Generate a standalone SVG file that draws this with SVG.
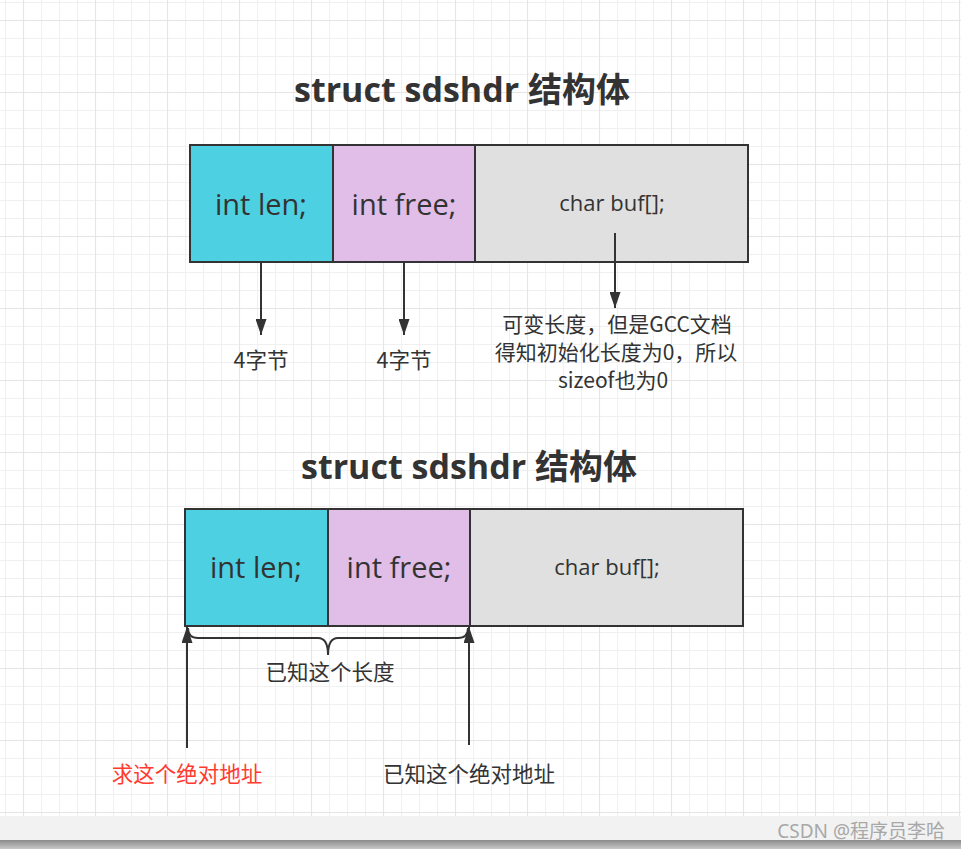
<svg xmlns="http://www.w3.org/2000/svg" width="961" height="849" viewBox="0 0 961 849">
<defs>
<pattern id="grid" patternUnits="userSpaceOnUse" x="23" y="20" width="72" height="72">
<path d="M18.5 0V72M36.5 0V72M54.5 0V72M0 18.5H72M0 36.5H72M0 54.5H72" stroke="#f0f0f0" stroke-width="1" fill="none"/>
<path d="M0.5 0V72M0 0.5H72" stroke="#e5e5e5" stroke-width="1.2" fill="none"/>
</pattern>
<linearGradient id="shade" x1="0" y1="0" x2="0" y2="1">
<stop offset="0" stop-color="#8a8a8a"/>
<stop offset="1" stop-color="#c8c8c8"/>
</linearGradient>
<marker id="ah" viewBox="0 0 16 11" refX="16" refY="5.5" markerWidth="16" markerHeight="11" markerUnits="userSpaceOnUse" orient="auto">
<path d="M0 0L16 5.5L0 11Z" fill="#333"/>
</marker>
<style>
.box{stroke:#333;stroke-width:2}
.len{fill:#4dd0e1}
.free{fill:#e1bee7}
.buf{fill:#e0e0e0}
.big{font-family:"Open Sans","Noto Sans","Noto Sans CJK SC",sans-serif;font-size:29px;fill:#333;text-anchor:middle}
.small{font-family:"Open Sans","Noto Sans","Noto Sans CJK SC",sans-serif;font-size:22px;fill:#333;text-anchor:middle}
.title{font-family:"Open Sans","Noto Sans","Noto Sans CJK SC",sans-serif;font-size:34px;font-weight:bold;fill:#333;text-anchor:middle}
.lbl{font-family:"Noto Sans CJK SC","Noto Sans",sans-serif;font-size:21.5px;fill:#333;text-anchor:middle}
.multi{font-size:21px}
.conn{stroke:#333;stroke-width:2;fill:none}
</style>
</defs>
<rect x="0" y="0" width="961" height="816" fill="#ffffff"/>
<rect x="0" y="0" width="961" height="816" fill="url(#grid)"/>
<rect x="0" y="816" width="961" height="24" fill="#f2f2f2"/>
<rect x="0" y="840" width="961" height="9" fill="url(#shade)"/>

<g id="title1"><text class="title" x="462" y="102">struct sdshdr 结构体</text></g>
<g id="top-len"><rect class="box len" x="190" y="145" width="143" height="117"/><text class="big" x="261" y="215">int len;</text></g>
<g id="top-free"><rect class="box free" x="333" y="145" width="142" height="117"/><text class="big" x="404" y="215">int free;</text></g>
<g id="top-buf"><rect class="box buf" x="475" y="145" width="273" height="117"/><text class="small" x="612" y="211">char buf[];</text></g>
<g id="lbl-len"><text class="lbl" x="261" y="368">4字节</text></g>
<g id="lbl-free"><text class="lbl" x="404" y="368">4字节</text></g>
<g id="lbl-buf"><text class="lbl multi" x="617" y="332">可变长度，但是GCC文档</text><text class="lbl multi" x="616" y="360">得知初始化长度为0，所以</text><text class="lbl multi" x="613" y="388">sizeof也为0</text></g>

<g id="title2"><text class="title" x="469" y="479">struct sdshdr 结构体</text></g>
<g id="bot-len"><rect class="box len" x="185" y="509" width="143" height="117"/><text class="big" x="256" y="578">int len;</text></g>
<g id="bot-free"><rect class="box free" x="328" y="509" width="142" height="117"/><text class="big" x="399" y="578">int free;</text></g>
<g id="bot-buf"><rect class="box buf" x="470" y="509" width="273" height="117"/><text class="small" x="607" y="575">char buf[];</text></g>
<g id="brace-label"><text class="lbl" x="330" y="680">已知这个长度</text></g>
<g id="lbl-want"><text class="lbl" x="187" y="782" style="fill:#ff3b30">求这个绝对地址</text></g>
<g id="lbl-known"><text class="lbl" x="469" y="782">已知这个绝对地址</text></g>

<g id="connectors">
<path class="conn" d="M261 262V335" marker-end="url(#ah)"/>
<path class="conn" d="M404 262V335" marker-end="url(#ah)"/>
<path class="conn" d="M615 233V308" marker-end="url(#ah)"/>
<path class="conn" d="M187 748V627" marker-end="url(#ah)"/>
<path class="conn" d="M469 745V627" marker-end="url(#ah)"/>
<path class="conn" d="M188 628Q188 638 198 638H318Q328 638 328 655Q328 638 338 638H458Q468 638 468 628"/>
</g>
<g id="watermark"><text x="945" y="838" style="font-family:'Noto Sans','Noto Sans CJK SC',sans-serif;font-size:19px;fill:#a8a8a8;text-anchor:end">CSDN @程序员李哈</text></g>
</svg>
